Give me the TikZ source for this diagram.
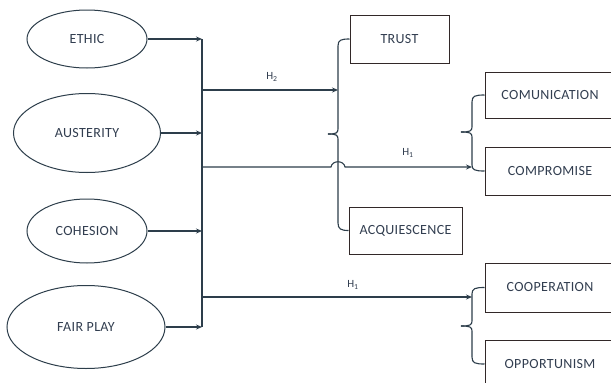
\documentclass[tikz,border=0pt]{standalone}
\usepackage{fontspec}
\setmainfont{Carlito}[LetterSpace=2.5]
\usetikzlibrary{shapes.geometric,arrows.meta}
\definecolor{ln}{RGB}{45,62,75}
\definecolor{bx}{RGB}{50,40,40}
\definecolor{tx}{RGB}{50,62,80}
\begin{document}
\begin{tikzpicture}[x=1pt,y=-1pt,
  oval/.style={ellipse,draw=ln,line width=1pt,inner sep=0pt,text=tx,font=\fontsize{14}{15}\selectfont},
  box/.style={rectangle,draw=bx,line width=1pt,inner sep=0pt,text=tx,font=\fontsize{14}{15}\selectfont},
  conn/.style={draw=ln,line width=1.1pt},
  arr/.style={conn,-{Stealth[length=6pt,width=5pt]}},
  hlab/.style={text=tx,font=\fontsize{11}{12}\selectfont,inner sep=1pt}]
\useasboundingbox (0,0) rectangle (611,383);
\clip (0,0) rectangle (611,383);
\fill[white] (0,0) rectangle (611,383);

% ellipses
\node[oval,minimum width=120,minimum height=58] (ethic) at (87,39) {ETHIC};
\node[oval,minimum width=147,minimum height=79] (aust) at (87,133) {AUSTERITY};
\node[oval,minimum width=120,minimum height=64] (coh) at (87,231) {COHESION};
\node[oval,minimum width=158,minimum height=83] (fair) at (86,327) {FAIR PLAY};

% boxes
\node[box,minimum width=99,minimum height=48] (trust) at (399.5,39) {TRUST};
\node[box,minimum width=113,minimum height=47] (acq) at (405.5,230.5) {ACQUIESCENCE};
\node[box,minimum width=130,minimum height=46] (comm) at (550,95) {COMUNICATION};
\node[box,minimum width=130,minimum height=48] (comp) at (550,171) {COMPROMISE};
\node[box,minimum width=130,minimum height=49] (coop) at (550,287.5) {COOPERATION};
\node[box,minimum width=130,minimum height=48] (opp) at (550,364) {OPPORTUNISM};

% bus
\coordinate (b1) at (202,39);
\coordinate (b2) at (202,133);
\coordinate (b3) at (202,231);
\coordinate (b4) at (202,327);
\coordinate (o1) at (202,90);
\coordinate (o2) at (202,167);
\coordinate (o3) at (202,297);
\coordinate (k1) at (338,90);
\coordinate (k2) at (472,167);
\coordinate (k3) at (472,297);

\draw[arr] (ethic.east) -- (b1);
\draw[arr] (aust.east) -- (b2);
\draw[arr] (coh.east) -- (b3);
\draw[arr] (fair.east) -- (b4);
\draw[conn] (b1) -- (b4);

% outputs
\draw[arr] (o1) -- (k1);
\draw[arr] (o2) -- (331,167) .. controls (332,160) and (344,160) .. (345,167) -- (k2);
\draw[arr] (o3) -- (k3);

% brace 1
\draw[conn] (trust.west) .. controls (341,39) and (338,40) .. (338,46) -- (338,129)
  .. controls (338,133) and (336,134) .. (328,134);
\draw[conn] (328,134) .. controls (336,134) and (338,135) .. (338,139) -- (338,223)
  .. controls (338,229) and (341,230.5) .. (acq.west);

% brace 2
\draw[conn] (comm.west) .. controls (475,95) and (472,96) .. (472,102) -- (472,127)
  .. controls (472,131) and (470,132) .. (461,132);
\draw[conn] (461,132) .. controls (470,132) and (472,133) .. (472,137) -- (472,165)
  .. controls (472,170) and (475,171) .. (comp.west);

% brace 3
\draw[conn] (coop.west) .. controls (475,287.5) and (472,288.5) .. (472,294) -- (472,321)
  .. controls (472,325) and (470,326) .. (461,326);
\draw[conn] (461,326) .. controls (470,326) and (472,327) .. (472,331) -- (472,357)
  .. controls (472,363) and (475,364) .. (opp.west);

% labels
\node[hlab] (h1) at (272,77) {H\textsubscript{2}};
\node[hlab] (h2) at (408,153) {H\textsubscript{1}};
\node[hlab] (h3) at (353,285) {H\textsubscript{1}};
\end{tikzpicture}
\end{document}
